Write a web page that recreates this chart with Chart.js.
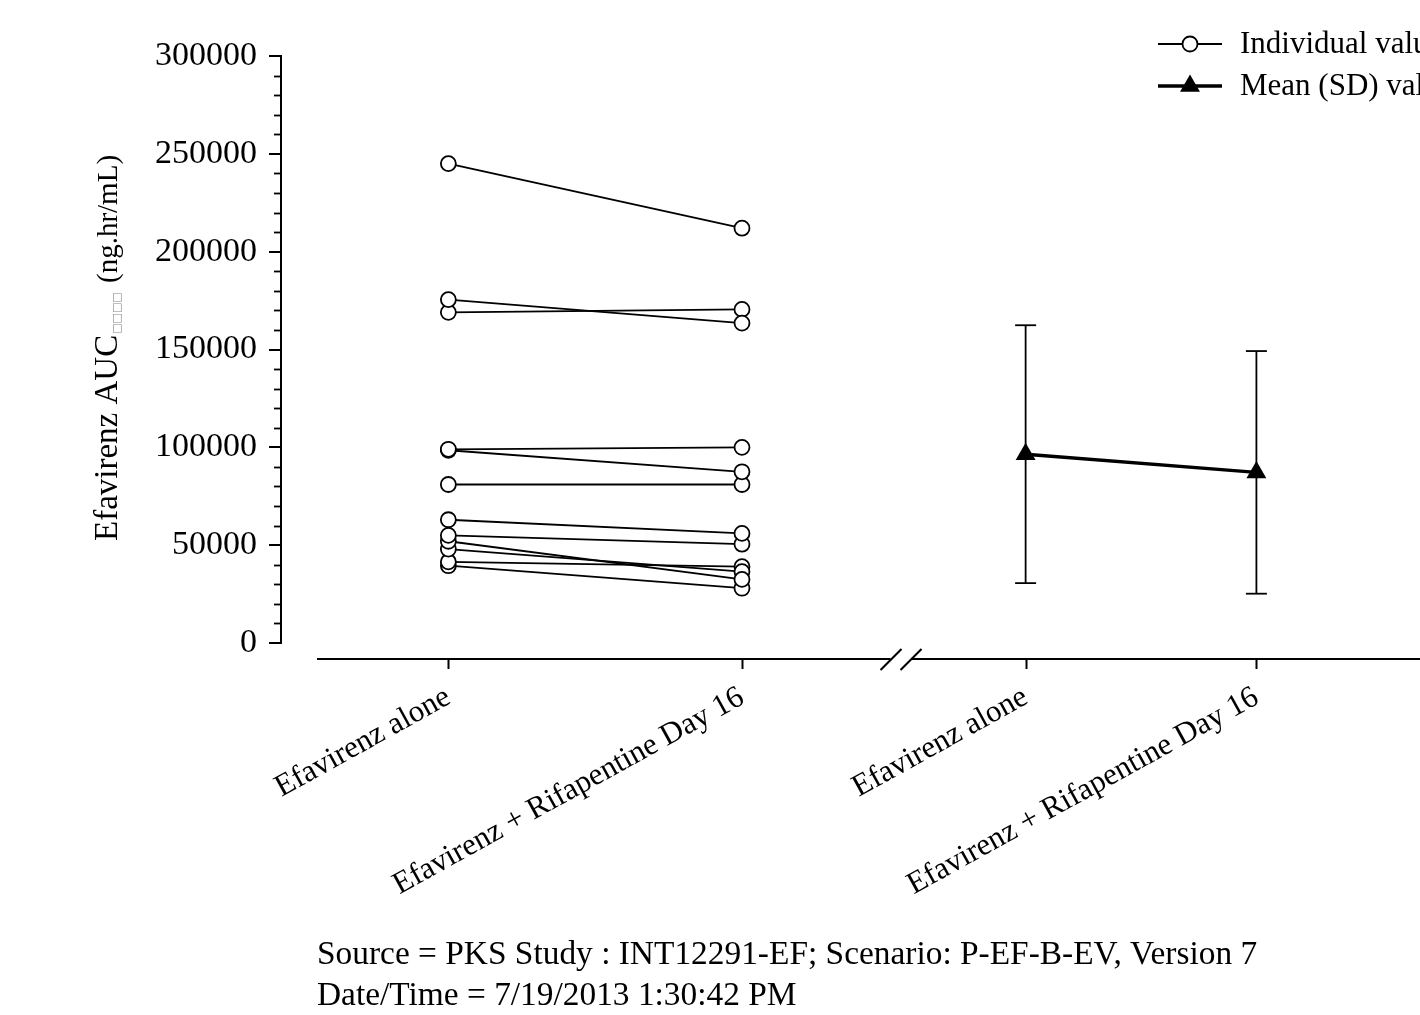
<!DOCTYPE html>
<html><head><meta charset="utf-8">
<style>html,body{margin:0;padding:0;background:#fff;overflow:hidden}#wrap{width:1420px;height:1015px}</style>
<script src="https://cdn.jsdelivr.net/npm/chart.js@4.4.1/dist/chart.umd.min.js"></script>
</head><body><div id="wrap"><canvas id="c" width="1420" height="1015"></canvas></div>
<script>
// ---- data ----
const categories = ['Efavirenz alone', 'Efavirenz + Rifapentine Day 16'];
const efavirenzAlone  = [245000, 175500, 169000, 99000, 98500, 81000, 63000, 55000, 52000, 48000, 41500, 39500];
const withRifapentine = [212000, 163500, 170500, 100000, 87500, 81000, 56000, 50500, 32500, 36500, 39000, 28000];
const meanValues = [96500, 87200];
const sdValues = [65900, 62000];
const yTickValues = [0, 50000, 100000, 150000, 200000, 250000, 300000];
const legendLabels = ['Individual values', 'Mean (SD) values'];
const yTitle = 'Efavirenz AUC';
const ySub = '\u25A1\u25A1\u25A1\u25A1';
const yUnit = '(ng.hr/mL)';
const footerLines = ['Source = PKS Study : INT12291-EF; Scenario: P-EF-B-EV, Version 7', 'Date/Time = 7/19/2013 1:30:42 PM'];

// ---- layout config (positions of category slots on the x scale) ----
const indivPos = [1, 2];
const meanPos = [2.966, 3.752];
const xRange = [0.43, 4.27];
const breakAt = 2.54;
const FONT = 'Liberation Serif';

const allPos = indivPos.concat(meanPos);
const posLabel = {};
indivPos.forEach((p, i) => posLabel[p] = categories[i]);
meanPos.forEach((p, i) => posLabel[p] = categories[i]);

const datasets = efavirenzAlone.map((v, i) => ({
  label: 'Subject ' + (i + 1),
  data: [{x: indivPos[0], y: v}, {x: indivPos[1], y: withRifapentine[i]}],
  borderColor: '#000', borderWidth: 1.8,
  pointRadius: 7.5, pointBorderWidth: 1.8, pointBackgroundColor: '#fff', pointBorderColor: '#000',
  pointStyle: 'circle', clip: false, tension: 0
}));
datasets.push({
  label: 'Mean',
  data: meanValues.map((m, i) => ({x: meanPos[i], y: m})),
  borderColor: '#000', borderWidth: 3.5,
  pointRadius: 11.5, pointBorderWidth: 0, pointBackgroundColor: '#000', pointBorderColor: '#000',
  pointStyle: 'triangle', clip: false, tension: 0
});

function line(ctx, x1, y1, x2, y2) { ctx.beginPath(); ctx.moveTo(x1, y1); ctx.lineTo(x2, y2); ctx.stroke(); }

const deco = {
  id: 'deco',
  beforeDatasetsDraw(chart) {
    const {ctx, scales: {x, y}} = chart;
    ctx.save();
    ctx.strokeStyle = '#000'; ctx.lineWidth = 1.8;
    meanValues.forEach((m, i) => {
      const px = x.getPixelForValue(meanPos[i]);
      const t = y.getPixelForValue(m + sdValues[i]);
      const b = y.getPixelForValue(m - sdValues[i]);
      line(ctx, px, t, px, b);
      line(ctx, px - 10.5, t, px + 10.5, t);
      line(ctx, px - 10.5, b, px + 10.5, b);
    });
    ctx.restore();
  },
  afterDraw(chart) {
    const {ctx, chartArea: ca, scales: {x, y}} = chart;
    ctx.save();
    ctx.strokeStyle = '#000'; ctx.fillStyle = '#000';
    // minor y ticks
    ctx.lineWidth = 1.8;
    for (let v = 10000; v < 300000; v += 10000) {
      if (v % 50000 === 0) continue;
      const py = Math.round(y.getPixelForValue(v)) + 0.5;
      line(ctx, ca.left, py, ca.left - 7, py);
    }
    // x axis with break
    const ax = ca.bottom + 16;
    const bx = x.getPixelForValue(breakAt);
    ctx.lineWidth = 2;
    line(ctx, ca.left + 36, ax, bx - 10, ax);
    line(ctx, bx + 11, ax, chart.width, ax);
    line(ctx, bx - 20, ax + 11, bx + 1, ax - 10);
    line(ctx, bx, ax + 11, bx + 21, ax - 10);
    allPos.forEach(p => { const px = Math.round(x.getPixelForValue(p)) + 0.5; line(ctx, px, ax, px, ax + 10); });
    // legend
    ctx.lineWidth = 1.8;
    line(ctx, 1158, 44, 1222, 44);
    ctx.beginPath(); ctx.arc(1190, 44, 7.5, 0, Math.PI * 2); ctx.fillStyle = '#fff'; ctx.fill(); ctx.stroke();
    ctx.lineWidth = 3.5;
    line(ctx, 1158, 86, 1222, 86);
    ctx.fillStyle = '#000';
    const r = 11.5;
    ctx.beginPath();
    ctx.moveTo(1190, 86 - r); ctx.lineTo(1190 + r * 0.866, 86 + r / 2); ctx.lineTo(1190 - r * 0.866, 86 + r / 2); ctx.closePath(); ctx.fill();
    ctx.font = '31px "' + FONT + '"';
    ctx.textBaseline = 'middle'; ctx.textAlign = 'left';
    ctx.fillText(legendLabels[0], 1240, 45);
    ctx.fillText(legendLabels[1], 1240, 87);
    // y title
    ctx.save();
    ctx.translate(117, 541);
    ctx.rotate(-Math.PI / 2);
    ctx.textBaseline = 'alphabetic';
    ctx.font = '33px "' + FONT + '"';
    ctx.fillText(yTitle, 0, 0);
    let w = ctx.measureText(yTitle).width;
    ctx.font = '11px "DejaVu Sans"';
    ctx.fillStyle = '#888';
    ctx.fillText(ySub, w + 1, 3);
    ctx.fillStyle = '#000';
    ctx.font = '29px "' + FONT + '"';
    ctx.fillText(yUnit, 258, 0);
    ctx.restore();
    // footer
    ctx.textBaseline = 'alphabetic';
    ctx.font = '33.4px "' + FONT + '"';
    ctx.fillText(footerLines[0], 317, 964);
    ctx.fillText(footerLines[1], 317, 1005);
    ctx.restore();
  }
};

new Chart(document.getElementById('c'), {
  type: 'line',
  data: {datasets},
  options: {
    responsive: false, animation: false,
    layout: {padding: {top: 56, left: 0, right: 0, bottom: 0}},
    plugins: {legend: {display: false}, tooltip: {enabled: false}},
    scales: {
      x: {
        type: 'linear', min: xRange[0], max: xRange[1],
        afterBuildTicks: s => { s.ticks = allPos.map(v => ({value: v})); },
        afterFit: s => { s.height = 372; },
        grid: {display: false, drawTicks: false, tickLength: 0},
        border: {display: false},
        ticks: {
          autoSkip: false, minRotation: 29, maxRotation: 29, padding: 36,
          color: '#000', font: {family: FONT, size: 31},
          callback: v => posLabel[v] || ''
        }
      },
      y: {
        type: 'linear', min: 0, max: 300000,
        afterBuildTicks: s => { s.ticks = yTickValues.map(v => ({value: v})); },
        afterFit: s => { s.width = 281; },
        grid: {display: true, drawOnChartArea: false, drawTicks: true, tickLength: 12, color: '#000', lineWidth: 2},
        border: {display: true, color: '#000', width: 2},
        ticks: {color: '#000', padding: 12, font: {family: FONT, size: 34}, callback: v => String(v)}
      }
    }
  },
  plugins: [deco]
});
</script></body></html>
